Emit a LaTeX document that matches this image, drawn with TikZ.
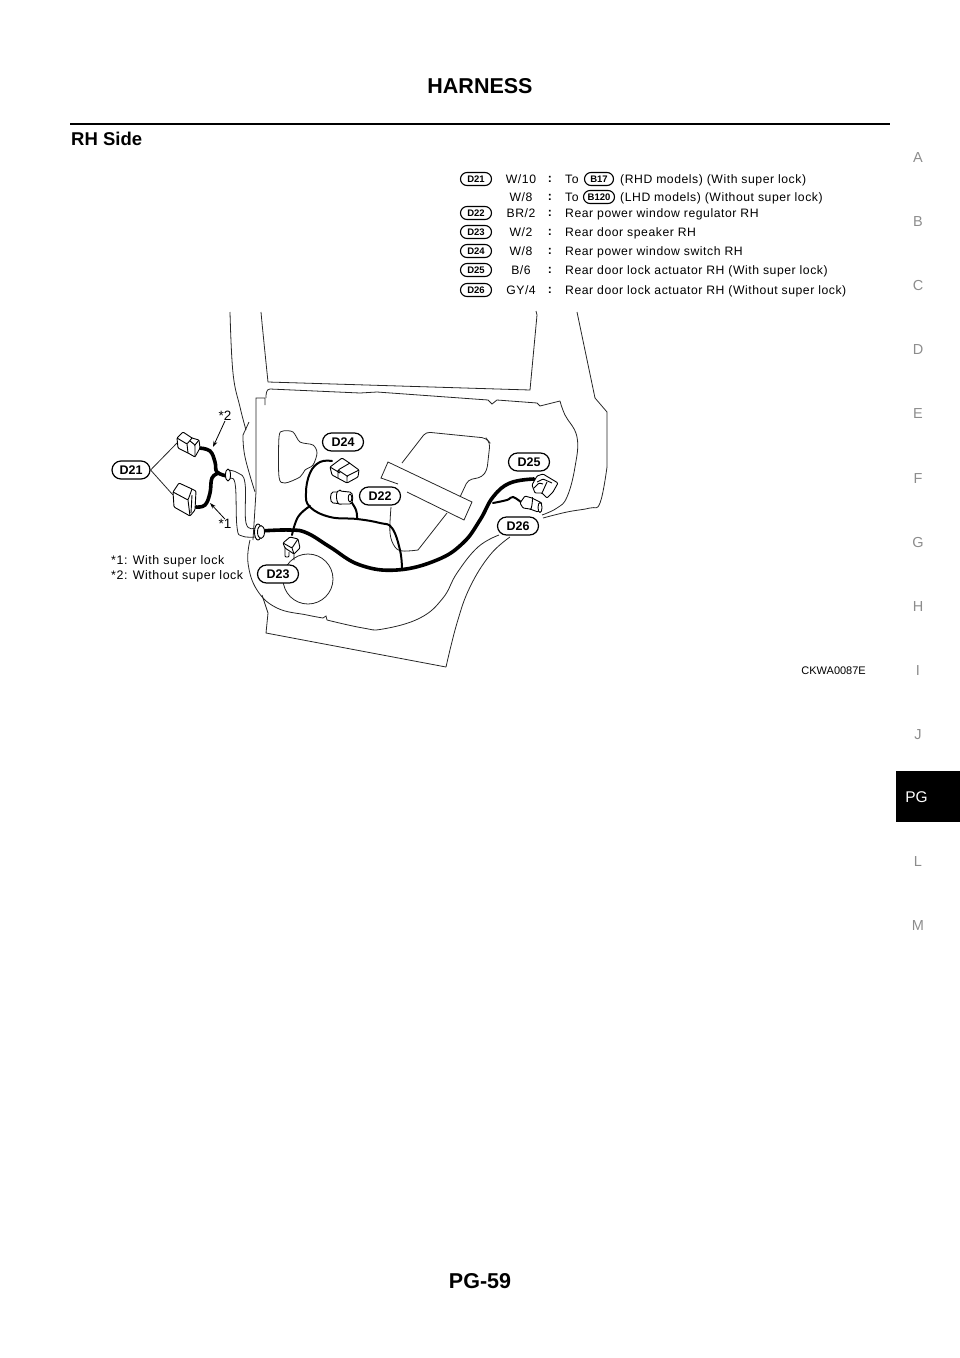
\documentclass[tikz,border=0pt]{standalone}
\usepackage{fontspec}
\setmainfont{Liberation Sans}
\newfontfamily\widefont[LetterSpace=4.5]{Liberation Sans}
\usepackage{xcolor}
\usetikzlibrary{calc, positioning, arrows.meta, shapes.misc}
\newcommand{\pxfont}[1]{\fontsize{#1}{#1}\selectfont}

\begin{document}
\begin{tikzpicture}[x=1pt, y=-1pt, every node/.style={inner sep=0pt},
    doorline/.style={line width=0.8pt, black!85},
    partline/.style={line width=0.9pt, black, fill=white, line join=round, rounded corners=1pt},
    mainwire/.style={line width=3.6pt, line cap=round},
    sidewire/.style={line width=2pt, line cap=round},
    bigpill/.style={rounded rectangle, draw, line width=1.2pt, fill=white, minimum width=41pt, minimum height=18pt, font=\pxfont{12.5}\bfseries},
    smallpill/.style={rounded rectangle, draw, line width=1.1pt, minimum width=31pt, minimum height=13pt, font=\pxfont{9.5}\bfseries},
    tabletext/.style={anchor=base west, font=\pxfont{12.2}\widefont},
    sideletter/.style={font=\pxfont{14.5}, text=black!45}]
    \useasboundingbox (0,0) rectangle (960,1358);
    % Page header and footer
    \node[font=\pxfont{21.5}\bfseries] (title) at (480,86.5) {HARNESS};
    \draw[line width=2.4pt] (70,124) -- (890,124);
    \node[anchor=west, font=\pxfont{18.5}\bfseries] (side) at (71,138.5) {RH Side};
    \node[anchor=east, font=\pxfont{11}] (figcode) at (866,670.5) {CKWA0087E};
    \node[font=\pxfont{21.5}\bfseries] (page) at (480,1281.5) {PG-59};
    % Section letters on the right edge
    \foreach \y/\b in {157/A,221/B,285/C,349/D,413/E,478/F,542/G,606/H,670/I,734/J,861/L,925/M} {
        \node[sideletter] (letter\b) at (918,\y+0.7) {\b};
    }
    \fill (896,771) rectangle (960,822);
    \node[font=\pxfont{15.5}, text=white] (tabPG) at (916.5,797) {PG};
    % Connector table
    \foreach \y/\p/\s/\d in {179/D21/{W/10}/{},197//{W/8}/{},213/D22/{BR/2}/Rear power window regulator RH,232/D23/{W/2}/Rear door speaker RH,251/D24/{W/8}/Rear power window switch RH,270/D25/{B/6}/Rear door lock actuator RH (With super lock),290/D26/{GY/4}/Rear door lock actuator RH (Without super lock)} {
        \if\relax\p\relax\else
            \node[smallpill] (row\p) at (476,\y) {\p};
        \fi
        \node[font=\pxfont{12.2}\widefont] (size\y) at (521,\y+0.5) {\s};
        \node[font=\pxfont{12.2}\bfseries] (colon\y) at (550,\y+0.5) {:};
        \node[tabletext] (text\y) at (565,\y+4.4) {\d};
    }
    \node[tabletext] (toA) at (565,183.4) {To};
    \node[smallpill, minimum width=29pt] (rowB17) at (599,179) {B17};
    \node[tabletext] (rhd) at (620,183.4) {(RHD models) (With super lock)};
    \node[tabletext] (toB) at (565,201.4) {To};
    \node[smallpill] (rowB120) at (599,197) {B120};
    \node[tabletext] (lhd) at (620,201.4) {(LHD models) (Without super lock)};
    % Body and door outline
    \draw[doorline] plot[smooth, tension=0.7] coordinates {(230,312) (233,373) (240,407) (246,430)};
    \draw[doorline] (243,435) -- (249,422);
    \draw[doorline] plot[smooth, tension=0.7] coordinates {(243,435) (245,457) (255,492)};
    \draw[doorline] plot[smooth, tension=0.7] coordinates {(261,312) (263,333) (268,382)};
    \draw[doorline] (268,382) -- (530,390) -- (537,315) -- (536,311);
    \draw[doorline] (265,405) -- (265,398) -- (256,398) -- (256,492) -- (253,540);
    \draw[doorline] (266,398) to[out=90, in=180] (270,389) -- (360,393) -- (377,392) -- (488,400)
        -- (492,404) -- (497,400) -- (537,403) -- (540,406) -- (560,401);
    \draw[doorline] plot[smooth, tension=0.7] coordinates {(560,401) (565,415) (577,437) (575,467) (567,497) (557,508) (542,515)};
    \draw[doorline] (577,312) -- (595,398) -- (607,412) -- (607,467);
    \draw[doorline] plot[smooth, tension=0.7] coordinates {(607,467) (600,503) (590,508) (567,512) (543,518)};
    \draw[doorline] plot[smooth, tension=0.7] coordinates {(250,540) (248,563) (257,590) (277,608) (307,615) (323,618)};
    \draw[doorline] (323,618) -- (326,616) -- (327,620);
    \draw[doorline] plot[smooth, tension=0.7] coordinates {(327,620) (363,628) (383,629) (420,618) (443,598) (457,573) (478,547) (499,535)};
    \draw[doorline] (262,595) -- (268,613) -- (266,633) -- (446,667);
    \draw[doorline] plot[smooth, tension=0.7] coordinates {(446,667) (457,623) (470,587) (490,555) (510,537)};
    % Openings in the door panel
    \draw[doorline] plot[smooth cycle, tension=0.5] coordinates {(279,437) (283,431) (293,432) (300,442) (313,445) (317,453) (313,465) (305,470) (300,477) (285,483) (279,477)};
    \draw[doorline] (308,579) circle (25);
    \draw[doorline, rounded corners=4pt] (402,463) -- (426,432) -- (486,438) -- (490,443) -- (487,470) -- (482,477) -- (468,480) -- (460,497);
    \draw[doorline] plot[smooth, tension=0.6] coordinates {(391,507) (390,533) (395,547) (403,551) (418,550)};
    \draw[doorline] (418,550) -- (447,513);
    \draw[doorline] (398,484) -- (381,478) -- (388,462) -- (472,502) -- (464,520) -- (407,492);
    % Wiring harness
    \draw[mainwire] plot[smooth, tension=0.7] coordinates {(260,531) (290,530) (307,533) (330,547) (360,565) (397,570) (437,560) (463,543) (480,520) (493,497) (510,483) (534,479)};
    \draw[sidewire] plot[smooth, tension=0.7] coordinates {(402,569) (400,550) (392,528) (380,523) (357,519) (330,517) (310,507) (306,493) (310,473) (320,462) (332,461)};
    \draw[sidewire] plot[smooth, tension=0.7] coordinates {(310,506) (298,517) (292,535)};
    \draw[sidewire] plot[smooth, tension=0.7] coordinates {(350,500) (356,510) (357,519)};
    \draw[sidewire] plot[smooth, tension=0.7] coordinates {(493,503) (507,500) (513,497) (522,503)};
    \draw[mainwire] plot[smooth, tension=0.7] coordinates {(199,448) (210,451) (215,462) (217,472) (227,476)};
    \draw[mainwire] plot[smooth, tension=0.7] coordinates {(196,507) (205,505) (210,493) (212,478) (219,473)};
    % Sleeve and grommet
    \draw[doorline] plot[smooth, tension=0.7] coordinates {(228,470) (238,473) (245,483) (246,523) (255,528)};
    \draw[doorline] plot[smooth, tension=0.7] coordinates {(228,480) (235,483) (237,527) (242,536) (255,537)};
    \draw[partline] (228,475) ellipse (2.5 and 6);
    \draw[partline] (258,532) ellipse (3.5 and 8);
    \draw[partline] (261,532) ellipse (3.5 and 6.5);
    % Connector bodies
    \draw[partline] (177,438) -- (183,432) -- (192,438) -- (199,440) -- (200,448) -- (195,457) -- (188,453) -- (178,448) -- cycle;
    \draw[partline, fill=none] (177,438) -- (187,444) -- (192,438) (187,444) -- (188,453) (190,441) -- (195,445) -- (195,457) (195,445) -- (199,440);
    \draw[partline] (173,492) -- (179,483) -- (192,489) -- (196,491) -- (195,510) -- (190,516) -- (174,507) -- cycle;
    \draw[partline, fill=none] (173,492) -- (188,500) -- (192,489) (188,500) -- (190,516) (192,495) -- (191,513);
    \draw[partline] (330,467) -- (342,458) -- (348,462) -- (359,470) -- (358,477) -- (347,483) -- (332,475) -- cycle;
    \draw[partline, fill=none] (347,483) -- (347,476) -- (359,470) (347,476) -- (338,470) -- (350,463) (330,467) -- (340,473) (338,470) -- (338,478);
    \draw[partline] (340,492) -- (334,492) to[out=180, in=180] (334,503) -- (341,504) -- cycle;
    \draw[partline] (340,491) -- (349,492) to[out=0, in=0] (349,504) -- (341,504) to[out=190, in=170] cycle;
    \draw[partline] (350,498) ellipse (1.8 and 4);
    \draw[partline] (283,543) -- (290,537) -- (298,539) -- (300,548) -- (294,554) -- (285,548) -- cycle;
    \draw[partline, fill=none] (283,543) -- (292,548) -- (298,539) (292,548) -- (294,554);
    \draw[partline, fill=none] (285,548) -- (285,557) -- (289,557) -- (289,552) (294,554) -- (294,560);
    \draw[partline] (532,485) -- (537,476) -- (543,474) -- (558,483) -- (553,492) -- (547,498) -- (542,493) -- (535,493) -- cycle;
    \draw[partline, fill=none] (537,482) -- (543,479) -- (552,483) (542,493) -- (547,482) (534,488) -- (539,483) -- (543,484);
    \draw[partline] (520,503) -- (525,496) -- (532,498) -- (542,503) -- (538,512) -- (530,509) -- (523,508) -- cycle;
    \draw[partline] (540,507.5) ellipse (2 and 5);
    \draw[partline, fill=none] (530,509) to[out=-70, in=70] (532,498);
    % Connector labels
    \node[bigpill, minimum width=38pt] (D21) at (131,470) {D21};
    \node[bigpill] (D22) at (380,496) {D22};
    \node[bigpill] (D23) at (278,574) {D23};
    \node[bigpill] (D24) at (343,442) {D24};
    \node[bigpill] (D25) at (529,462) {D25};
    \node[bigpill] (D26) at (518,526) {D26};
    \coordinate (plugUpper) at (177,443);
    \coordinate (plugLower) at (173,495);
    \draw[doorline] (D21.east) -- (plugUpper);
    \draw[doorline] (D21.east) -- (plugLower);
    % Harness variants
    \node[font=\pxfont{13.5}] (starTwo) at (225,416) {*2};
    \node[font=\pxfont{13.5}] (starOne) at (225,524) {*1};
    \coordinate (wireTwo) at (213,447);
    \coordinate (wireOne) at (210,503);
    \draw[-{Stealth[length=6pt, width=4pt]}, line width=0.8pt] (starTwo.south) -- (wireTwo);
    \draw[-{Stealth[length=6pt, width=4pt]}, line width=0.8pt] (starOne.north) -- (wireOne);
    \node[anchor=base west, font=\pxfont{12.4}\widefont] (noteOne) at (111,564.5) {*1: With super lock};
    \node[anchor=base west, font=\pxfont{12.4}\widefont] (noteTwo) at (111,579.5) {*2: Without super lock};
\end{tikzpicture}
\end{document}
